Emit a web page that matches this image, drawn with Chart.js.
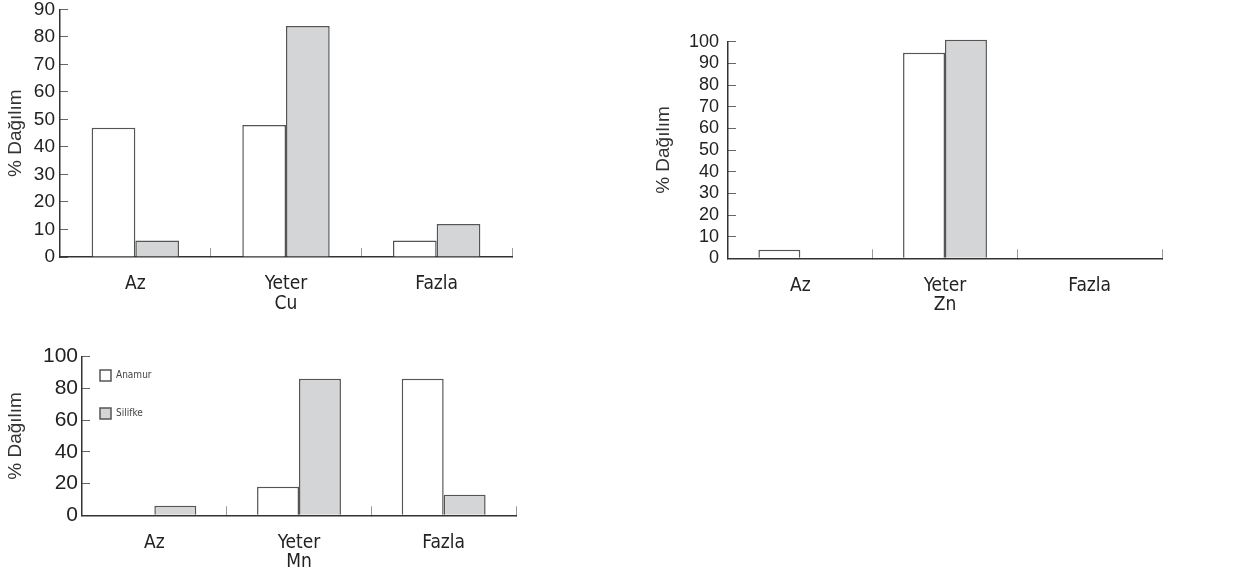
<!DOCTYPE html>
<html>
<head>
<meta charset="utf-8">
<script src="https://cdn.jsdelivr.net/npm/chart.js@4/dist/chart.umd.min.js"></script>
<style>
    html, body { margin: 0; padding: 0; background: #fff; }
    body { width: 1240px; height: 576px; position: relative; overflow: hidden; }
    .box { position: absolute; }
</style>
</head>
<body>
<div class="box" style="left:0px;top:-15px;width:530px;height:333px"><canvas id="cuChart"></canvas></div>
<div class="box" style="left:648px;top:13.7px;width:592px;height:305.3px"><canvas id="znChart"></canvas></div>
<div class="box" style="left:0px;top:331.7px;width:540px;height:244.3px"><canvas id="mnChart"></canvas></div>
<script>
// veri
const categories = ['Az', 'Yeter', 'Fazla'];
const seriesNames = ['Anamur', 'Silifke'];

const cuAnamur = [47, 48, 6];
const cuSilifke = [6, 84, 12];
const cuTicks = [0, 10, 20, 30, 40, 50, 60, 70, 80, 90];

const znAnamur = [4, 95, 0];
const znSilifke = [0, 101, 0];
const znTicks = [0, 10, 20, 30, 40, 50, 60, 70, 80, 90, 100];

const mnAnamur = [0, 18, 86];
const mnSilifke = [6, 86, 13];
const mnTicks = [0, 20, 40, 60, 80, 100];

const yTitle = '% Dağılım';

const SANS = "'Liberation Sans', Arial, sans-serif";
const NARROW = "'Liberation Sans Narrow', 'DejaVu Sans Condensed', 'Liberation Sans', sans-serif";

// lejantı çizim alanının içinde biraz kaydır
const legendShift = {
    id: 'legendShift',
    afterLayout(chart, args, opts) {
        if (!chart.legend || !opts || !opts.enabled) return;
        chart.legend.left += opts.dx;
        chart.legend.top += opts.dy;
    }
};

function makeChart(id, opt) {
    const ctx = document.getElementById(id).getContext('2d');
    return new Chart(ctx, {
        type: 'bar',
        plugins: [legendShift],
        data: {
            labels: categories,
            datasets: [
                {
                    label: seriesNames[0],
                    data: opt.a,
                    backgroundColor: '#ffffff',
                    borderColor: '#555555',
                    borderWidth: 1.5,
                    clip: false
                },
                {
                    label: seriesNames[1],
                    data: opt.b,
                    backgroundColor: '#d4d5d7',
                    borderColor: '#555555',
                    borderWidth: 1.5,
                    clip: false
                }
            ]
        },
        options: {
            responsive: true,
            maintainAspectRatio: false,
            animation: false,
            layout: { padding: { top: 0, right: opt.padRight, left: 0, bottom: 0 } },
            datasets: { bar: { barPercentage: 1, categoryPercentage: 0.58 } },
            plugins: {
                tooltip: { enabled: false },
                legendShift: { enabled: !!opt.legend, dx: -9, dy: 11 },
                legend: opt.legend ? {
                    display: true,
                    position: 'chartArea',
                    align: 'start',
                    labels: {
                        boxWidth: 11,
                        boxHeight: 11,
                        padding: 27,
                        color: '#444',
                        font: { family: NARROW, size: 10 }
                    }
                } : { display: false }
            },
            scales: {
                x: {
                    afterFit: s => { s.height = 61; },
                    grid: {
                        display: true,
                        drawOnChartArea: false,
                        drawTicks: true,
                        tickLength: -9,
                        color: '#999',
                        lineWidth: 1
                    },
                    border: { display: true, color: '#333', width: 1.5 },
                    ticks: {
                        color: '#222',
                        padding: 25,
                        font: { family: NARROW, size: 19 }
                    },
                    title: {
                        display: true,
                        text: opt.element,
                        color: '#222',
                        padding: { top: 0, bottom: 3 },
                        font: { family: NARROW, size: 19 }
                    }
                },
                y: {
                    min: 0,
                    max: opt.max,
                    afterFit: s => { s.width = opt.yWidth; },
                    afterBuildTicks: s => { s.ticks = opt.ticks.map(v => ({ value: v })); },
                    grid: {
                        display: true,
                        drawOnChartArea: false,
                        drawTicks: true,
                        tickLength: -8,
                        color: '#666',
                        lineWidth: 1
                    },
                    border: { display: true, color: '#333', width: 1.5 },
                    ticks: {
                        autoSkip: false,
                        color: '#222',
                        padding: opt.tickPad,
                        font: { family: SANS, size: opt.tickSize }
                    },
                    title: {
                        display: true,
                        text: yTitle,
                        color: '#333',
                        padding: { top: 4, bottom: 0 },
                        font: { family: SANS, size: 19 }
                    }
                }
            }
        }
    });
}

makeChart('cuChart', {
    a: cuAnamur, b: cuSilifke, element: 'Cu', ticks: cuTicks,
    max: 90, yWidth: 60, tickPad: 13, tickSize: 19,
    padRight: 18, legend: false
});

makeChart('znChart', {
    a: znAnamur, b: znSilifke, element: 'Zn', ticks: znTicks,
    max: 100, yWidth: 80, tickPad: 17, tickSize: 18,
    padRight: 78, legend: false
});

makeChart('mnChart', {
    a: mnAnamur, b: mnSilifke, element: 'Mn', ticks: mnTicks,
    max: 100, yWidth: 82, tickPad: 12, tickSize: 21,
    padRight: 24, legend: true
});
</script>
</body>
</html>
